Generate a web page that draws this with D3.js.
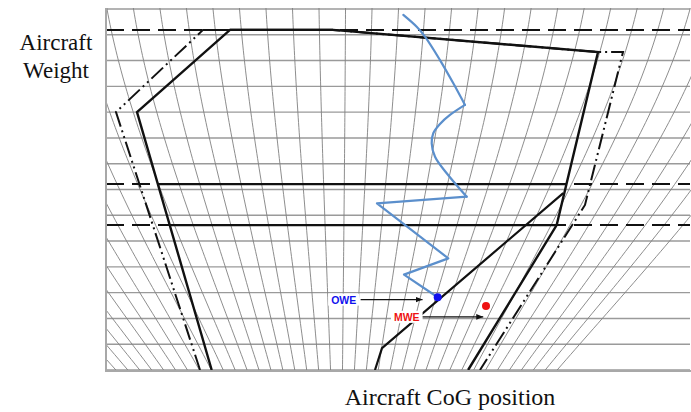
<!DOCTYPE html>
<html>
<head>
<meta charset="utf-8">
<script src="https://cdn.jsdelivr.net/npm/d3@7"></script>
<style>
  html, body { margin: 0; padding: 0; background: #fff; }
  svg { display: block; }
</style>
</head>
<body>
<svg id="chart" width="691" height="412"></svg>
<script>
// ---- data (CoG position in % of the plotted range, weight in grid units) ----
const weightGrid = d3.range(0, 15);                 // horizontal weight lines
const fanIndex = d3.range(-12, 28);                 // fan (index) lines, numbered from the left

// solid certified envelope
const envX = [18.1, 5.31, 21.23, 38.87, 84.25, 77.17, 62.0];
const envY = [0, 10.0, 13.19, 13.19, 12.33, 5.62, 0];
// dash-dot-dot outer envelope
const outX = [16.1, 1.71, 16.61, 38.87, 84.25, 88.53, 82.02, 64.04];
const outY = [0, 10.0, 13.19, 13.19, 12.33, 12.33, 6.40, 0];
// empty-weight corner line
const oweLineX = [78.3, 47.26, 46.06];
const oweLineY = [6.86, 0.85, 0];
// weight limits (dashed across, solid inside the envelope)
const limitWeights = [13.19, 7.21, 5.62];
const limitSolidFrom = [21.23, 8.82, 10.86];
const limitSolidTo = [38.87, 78.85, 77.17];

// loading trace
const traceCurveAX = [50.91, 53.20, 54.62, 57.19, 59.47, 61.47];
const traceCurveAY = [13.77, 13.31, 12.93, 12.02, 11.12, 10.28];
const traceCurveBX = [61.47, 58.90, 57.19, 56.04, 55.77, 56.34, 58.34, 61.76];
const traceCurveBY = [10.28, 9.89, 9.54, 9.18, 8.79, 8.27, 7.63, 6.72];
const traceStepX = [61.76, 46.40, 58.61, 51.03, 56.80];
const traceStepY = [6.72, 6.46, 4.33, 3.70, 2.82];

// reference weights
const markerNames = ["OWE", "MWE"];
const markerX = [56.80, 65.07];
const markerY = [2.82, 2.48];
const markerColors = ["#1010ee", "#ee1111"];
const markerLabelX = [40.7, 51.5];
const markerLabelY = [2.73, 2.06];
const arrowFromX = [43.6, 54.0];
const arrowToX = [54.2, 64.6];

// ---- layout ----
const svg = d3.select("#chart");
const x = d3.scaleLinear().domain([0, 100]).range([106, 690]);
const y = d3.scaleLinear().domain([0, 14]).range([370, 9]);

const defs = svg.append("defs");
defs.append("clipPath").attr("id", "plot")
  .append("rect").attr("x", 106).attr("y", 8).attr("width", 585).attr("height", 363);
defs.append("marker").attr("id", "arrow").attr("viewBox", "0 0 10 10")
  .attr("refX", 10).attr("refY", 5).attr("markerWidth", 7).attr("markerHeight", 7)
  .attr("orient", "auto").attr("markerUnits", "userSpaceOnUse")
  .append("path").attr("d", "M0,1 L10,5 L0,9 Z").attr("fill", "#111");

const g = svg.append("g").attr("clip-path", "url(#plot)");

// horizontal weight grid
g.selectAll("line.hgrid").data(weightGrid).join("line")
  .attr("class", "hgrid")
  .attr("x1", x(0)).attr("x2", x(100))
  .attr("y1", d => y(d)).attr("y2", d => y(d))
  .attr("stroke", "#9a9a9a").attr("stroke-width", 1.4);

// fan lines: each index line draws in toward the centre as the weight drops
const fanCentre = 40.07;
const fanTop = k => 0.171 + 4.538 * k;
const fanShrink = w => {
  const t = 1 - w / 14;
  const t2 = t * t, t3 = t2 * t;
  return (2 * t3 - 3 * t2 + 1) - 0.285 * (t3 - 2 * t2 + t)
       + 0.45 * (-2 * t3 + 3 * t2) - 0.65 * (t3 - t2);
};
const fanSamples = d3.range(-0.2, 14.21, 0.2);
const fanLine = d3.line().x(d => x(d[0])).y(d => y(d[1]));
g.selectAll("path.fan").data(fanIndex).join("path")
  .attr("class", "fan")
  .attr("d", k => fanLine(fanSamples.map(w => [fanCentre + (fanTop(k) - fanCentre) * fanShrink(w), w])))
  .attr("fill", "none").attr("stroke", "#808080").attr("stroke-width", 0.9);

// weight limits
limitWeights.forEach((w, i) => {
  g.append("line").attr("x1", x(0)).attr("x2", x(100)).attr("y1", y(w)).attr("y2", y(w))
    .attr("stroke", "#111").attr("stroke-width", 2).attr("stroke-dasharray", "18,8");
  g.append("line").attr("x1", x(limitSolidFrom[i])).attr("x2", x(limitSolidTo[i]))
    .attr("y1", y(w)).attr("y2", y(w))
    .attr("stroke", "#111").attr("stroke-width", 2.2);
});

const pathLine = d3.line().x(d => x(d[0])).y(d => y(d[1]));
const zip = (a, b) => a.map((v, i) => [v, b[i]]);

g.append("path").attr("d", pathLine(zip(outX, outY)))
  .attr("fill", "none").attr("stroke", "#111").attr("stroke-width", 2)
  .attr("stroke-dasharray", "16,4,2,4,2,4");
g.append("path").attr("d", pathLine(zip(envX, envY)))
  .attr("fill", "none").attr("stroke", "#111").attr("stroke-width", 2.4)
  .attr("stroke-linejoin", "miter");
g.append("path").attr("d", pathLine(zip(oweLineX, oweLineY)))
  .attr("fill", "none").attr("stroke", "#111").attr("stroke-width", 2.2);

// loading trace
const smooth = d3.line().x(d => x(d[0])).y(d => y(d[1])).curve(d3.curveCatmullRom.alpha(0.5));
const trace = svg.append("g").attr("fill", "none").attr("stroke", "#5b8fcc").attr("stroke-width", 2.2)
  .attr("stroke-linejoin", "round").attr("stroke-linecap", "round");
trace.append("path").attr("d", smooth(zip(traceCurveAX, traceCurveAY)));
trace.append("path").attr("d", smooth(zip(traceCurveBX, traceCurveBY)));
trace.append("path").attr("d", pathLine(zip(traceStepX, traceStepY)));

// reference weight markers with labels and arrows
markerNames.forEach((name, i) => {
  svg.append("line")
    .attr("x1", x(arrowFromX[i])).attr("x2", x(arrowToX[i]))
    .attr("y1", y(markerLabelY[i])).attr("y2", y(markerLabelY[i]))
    .attr("stroke", "#111").attr("stroke-width", 1.1).attr("marker-end", "url(#arrow)");
  const t = svg.append("text")
    .attr("x", x(markerLabelX[i])).attr("y", y(markerLabelY[i]))
    .attr("text-anchor", "middle").attr("dominant-baseline", "central")
    .attr("font-family", "Liberation Sans, Arial, sans-serif").attr("font-weight", "bold")
    .attr("font-size", 10.5).attr("fill", markerColors[i]).text(name);
  const bb = t.node().getBBox();
  svg.insert("rect", () => t.node())
    .attr("x", bb.x - 3).attr("y", bb.y).attr("width", bb.width + 6).attr("height", bb.height)
    .attr("fill", "#fff");
  svg.append("circle").attr("cx", x(markerX[i])).attr("cy", y(markerY[i])).attr("r", 4)
    .attr("fill", markerColors[i]);
});

// axes frame
svg.append("line").attr("x1", 106).attr("x2", 106).attr("y1", 8).attr("y2", 372)
  .attr("stroke", "#a8a8a8").attr("stroke-width", 2);
svg.append("line").attr("x1", 105).attr("x2", 691).attr("y1", 371).attr("y2", 371)
  .attr("stroke", "#a8a8a8").attr("stroke-width", 2);

// axis titles
const serif = "Liberation Serif, Times New Roman, serif";
svg.append("text").attr("x", 56).attr("y", 50).attr("text-anchor", "middle")
  .attr("font-family", serif).attr("font-size", 23).attr("fill", "#111").text("Aircraft");
svg.append("text").attr("x", 56).attr("y", 78).attr("text-anchor", "middle")
  .attr("font-family", serif).attr("font-size", 23).attr("fill", "#111").text("Weight");
svg.append("text").attr("x", 450).attr("y", 405).attr("text-anchor", "middle")
  .attr("font-family", serif).attr("font-size", 24).attr("fill", "#111").text("Aircraft CoG position");
</script>
</body>
</html>
